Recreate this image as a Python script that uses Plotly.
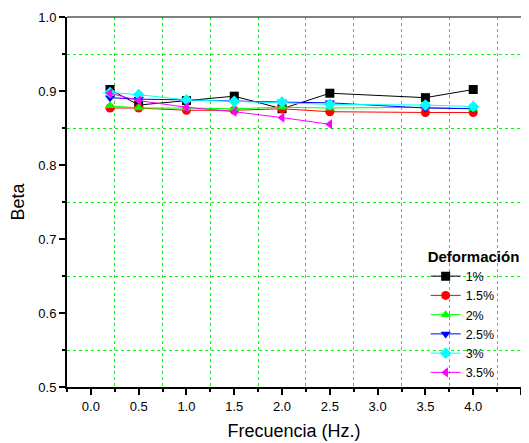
import plotly.graph_objects as go

freq = [0.2, 0.5, 1.0, 1.5, 2.0, 2.5, 3.5, 4.0]
freq_35 = [0.2, 0.5, 1.0, 1.5, 2.0, 2.5]

beta_1 = [0.902, 0.881, 0.887, 0.893, 0.876, 0.897, 0.891, 0.902]
beta_15 = [0.877, 0.877, 0.874, 0.874, 0.876, 0.872, 0.871, 0.871]
beta_2 = [0.880, 0.877, 0.877, 0.876, 0.878, 0.877, 0.878, 0.876]
beta_25 = [0.891, 0.889, 0.888, 0.886, 0.885, 0.884, 0.877, 0.876]
beta_3 = [0.898, 0.895, 0.888, 0.886, 0.885, 0.882, 0.881, 0.879]
beta_35 = [0.897, 0.887, 0.878, 0.872, 0.864, 0.855]

series = [
    ("1%", freq, beta_1, "black", "square"),
    ("1.5%", freq, beta_15, "red", "circle"),
    ("2%", freq, beta_2, "#00ff00", "triangle-up"),
    ("2.5%", freq, beta_25, "blue", "triangle-down"),
    ("3%", freq, beta_3, "cyan", "diamond"),
    ("3.5%", freq_35, beta_35, "magenta", "triangle-left"),
]

fig = go.Figure()
for name, x, y, c, sym in series:
    fig.add_trace(go.Scatter(
        x=x, y=y, name=name, mode="lines+markers",
        line=dict(color=c, width=1),
        marker=dict(color=c, symbol=sym, size=9, line=dict(width=0)),
    ))

font = "Liberation Sans, Arial, sans-serif"
grid = "#00ff00"
fig.update_layout(
    width=521, height=435,
    margin=dict(l=59, r=8, t=9, b=56, autoexpand=False),
    paper_bgcolor="white", plot_bgcolor="white",
    font=dict(family=font, size=13, color="black"),
    legend=dict(
        title=dict(text="<b>Deformación</b>", font=dict(size=15)),
        x=0.79, xanchor="left", y=0.0, yanchor="bottom",
        bgcolor="rgba(0,0,0,0)", font=dict(size=12.5),
        tracegroupgap=0, itemwidth=30,
    ),
    xaxis=dict(
        range=[-0.25, 4.5], tick0=0, dtick=0.5, tickformat=".1f",
        showgrid=False, zeroline=False, automargin=False,
        showline=True, linecolor="black", linewidth=2, mirror=False,
        ticks="outside", ticklen=6, tickcolor="black", tickwidth=1.5,
        minor=dict(tick0=0.25, dtick=0.5, showgrid=True, gridcolor=grid,
                   griddash="dot", gridwidth=1, ticks="outside", ticklen=3),
        title=dict(text="Frecuencia (Hz.)", font=dict(size=18), standoff=12),
    ),
    yaxis=dict(
        range=[0.5, 1.0], tick0=0.5, dtick=0.1, tickformat=".1f",
        showgrid=False, zeroline=False, automargin=False,
        showline=True, linecolor="black", linewidth=2, mirror=True,
        ticks="outside", ticklen=6, tickcolor="black", tickwidth=1.5,
        minor=dict(tick0=0.55, dtick=0.1, showgrid=True, gridcolor=grid,
                   griddash="dot", gridwidth=1, ticks="outside", ticklen=3),
        title=dict(text="Beta", font=dict(size=18), standoff=14),
    ),
    shapes=[dict(type="line", xref="paper", yref="paper", x0=0, x1=1, y0=1, y1=1,
                 line=dict(color="#808080", width=2))],
)

fig.write_html("out.html")
